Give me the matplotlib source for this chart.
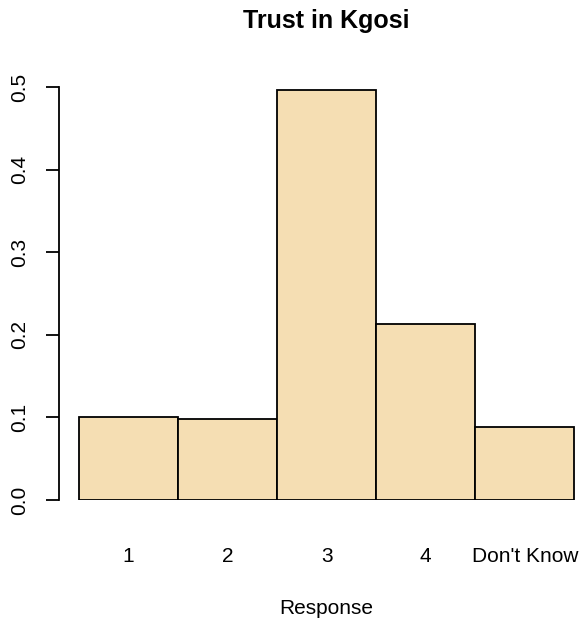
import matplotlib
matplotlib.use("Agg")
import matplotlib.pyplot as plt
import matplotlib.transforms as mtransforms

plt.rcParams['font.family'] = ['Liberation Sans', 'DejaVu Sans']

categories = ["1", "2", "3", "4", "Don't Know"]
proportions = [0.101, 0.0985, 0.496, 0.2135, 0.088]
y_ticks = [0.0, 0.1, 0.2, 0.3, 0.4, 0.5]

W, H = 584, 627
fig = plt.figure(figsize=(W / 100, H / 100), dpi=100)

# plot region in pixels: y-axis line at x=59, zero line at y=500
px_per_bar = 99.1
left_px, right_px = 59, 584
bottom_px, top_px = 500, 70
ax = fig.add_axes([left_px / W, 1 - bottom_px / H,
                   (right_px - left_px) / W, (bottom_px - top_px) / H])
ax.set_xlim(-0.2, -0.2 + (right_px - left_px) / px_per_bar)
ax.set_ylim(0, (bottom_px - top_px) / 826.0)

xs = range(len(categories))
ax.bar([x + 0.5 for x in xs], proportions, width=1.0, color='#F5DEB3',
       edgecolor='black', linewidth=1.3)

for side in ['top', 'right', 'bottom']:
    ax.spines[side].set_visible(False)
ax.spines['left'].set_bounds(0, 0.5)
ax.spines['left'].set_linewidth(1.3)
ax.set_xticks([])
ax.set_yticks(y_ticks)
ax.set_yticklabels([f"{t:.1f}" for t in y_ticks], rotation=90, va='center',
                   fontsize=15)
ax.tick_params(axis='y', length=9.6, width=1.3, pad=12)

# category names under the bars
trans = mtransforms.blended_transform_factory(ax.transData, fig.transFigure)
for x, name in zip(xs, categories):
    ax.text(x + 0.5, 1 - 557 / H, name, transform=trans, ha='center',
            va='center', fontsize=15)

fig.text((left_px + 78.7 + 2.5 * px_per_bar - 59) / W, 1 - 609 / H, "Response",
         ha='center', va='center', fontsize=15)
fig.text((78.7 + 2.5 * px_per_bar) / W, 1 - 21 / H, "Trust in Kgosi",
         ha='center', va='center', fontsize=18, fontweight='bold')

fig.savefig("out.png", dpi=100)
